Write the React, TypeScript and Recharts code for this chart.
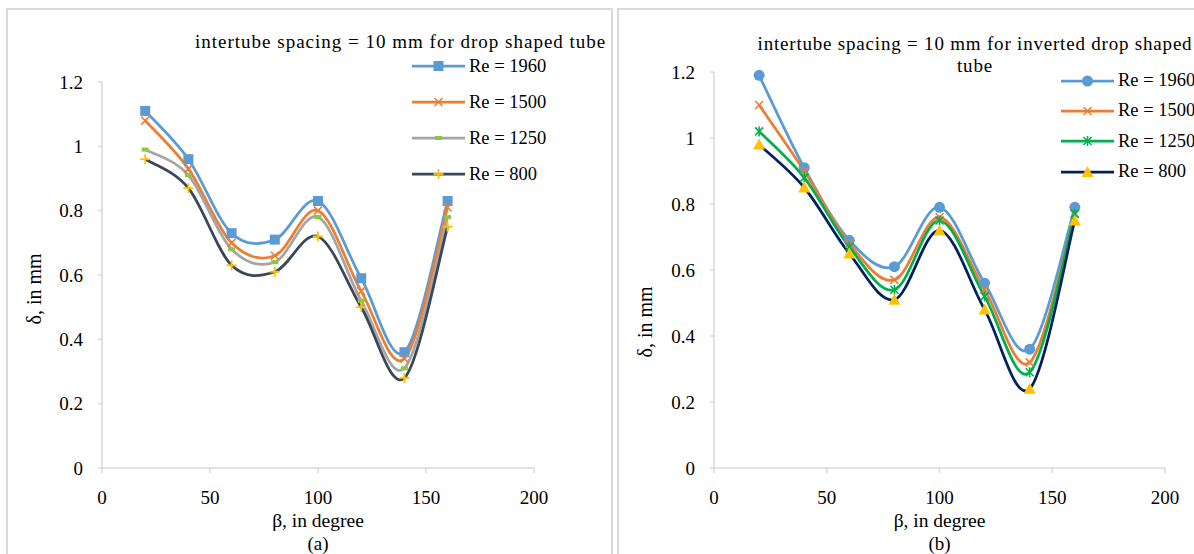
import React from 'react';
import { LineChart, Line, XAxis, YAxis, Legend, Label } from 'recharts';

// β in degree
const angles = [20, 40, 60, 80, 100, 120, 140, 160];

// (a) drop shaped tube, δ in mm
const dropRe1960 = [1.11, 0.96, 0.73, 0.71, 0.83, 0.59, 0.36, 0.83];
const dropRe1500 = [1.08, 0.93, 0.70, 0.66, 0.80, 0.55, 0.34, 0.81];
const dropRe1250 = [0.99, 0.91, 0.68, 0.64, 0.78, 0.52, 0.31, 0.78];
const dropRe800 = [0.96, 0.87, 0.63, 0.61, 0.72, 0.50, 0.28, 0.75];

// (b) inverted drop shaped tube, δ in mm
const invRe1960 = [1.19, 0.91, 0.69, 0.61, 0.79, 0.56, 0.36, 0.79];
const invRe1500 = [1.10, 0.90, 0.68, 0.57, 0.76, 0.54, 0.32, 0.77];
const invRe1250 = [1.02, 0.88, 0.67, 0.54, 0.75, 0.52, 0.29, 0.77];
const invRe800 = [0.98, 0.85, 0.65, 0.51, 0.72, 0.48, 0.24, 0.75];

const xTicks = [0, 50, 100, 150, 200];
const yTicks = [0, 0.2, 0.4, 0.6, 0.8, 1, 1.2];

const serif = '"Liberation Serif", "Times New Roman", serif';
const axisGrey = '#d9d9d9';

const dropData = angles.map((b, i) => ({
  beta: b, re1960: dropRe1960[i], re1500: dropRe1500[i], re1250: dropRe1250[i], re800: dropRe800[i],
}));
const invData = angles.map((b, i) => ({
  beta: b, re1960: invRe1960[i], re1500: invRe1500[i], re1250: invRe1250[i], re800: invRe800[i],
}));

// Excel-like smoothed line (Catmull-Rom through the points)
const excelSmooth = (ctx: any) => {
  let pts: number[][] = [];
  return {
    areaStart() {},
    areaEnd() {},
    lineStart() { pts = []; },
    point(x: number, y: number) { pts.push([+x, +y]); },
    lineEnd() {
      if (!pts.length) return;
      ctx.moveTo(pts[0][0], pts[0][1]);
      for (let i = 0; i < pts.length - 1; i++) {
        const p0 = pts[i - 1] || pts[i];
        const p1 = pts[i];
        const p2 = pts[i + 1];
        const p3 = pts[i + 2] || p2;
        ctx.bezierCurveTo(
          p1[0] + (p2[0] - p0[0]) / 6, p1[1] + (p2[1] - p0[1]) / 6,
          p2[0] - (p3[0] - p1[0]) / 6, p2[1] - (p3[1] - p1[1]) / 6,
          p2[0], p2[1],
        );
      }
    },
  };
};

type Marker = (cx: number, cy: number, key?: string) => React.ReactElement;

const square = (fill: string): Marker => (cx, cy, key) => (
  <rect key={key} x={cx - 5} y={cy - 5} width={10} height={10} fill={fill} />
);
const cross = (stroke: string): Marker => (cx, cy, key) => (
  <g key={key} stroke={stroke} strokeWidth={1.6}>
    <line x1={cx - 4} y1={cy - 4} x2={cx + 4} y2={cy + 4} />
    <line x1={cx - 4} y1={cy + 4} x2={cx + 4} y2={cy - 4} />
  </g>
);
const dash = (fill: string): Marker => (cx, cy, key) => (
  <rect key={key} x={cx - 3.5} y={cy - 2} width={7} height={4} fill={fill} />
);
const plus = (stroke: string): Marker => (cx, cy, key) => (
  <g key={key} stroke={stroke} strokeWidth={1.8}>
    <line x1={cx - 5} y1={cy} x2={cx + 5} y2={cy} />
    <line x1={cx} y1={cy - 5} x2={cx} y2={cy + 5} />
  </g>
);
const circle = (fill: string): Marker => (cx, cy, key) => (
  <circle key={key} cx={cx} cy={cy} r={5.5} fill={fill} />
);
const star = (stroke: string): Marker => (cx, cy, key) => (
  <g key={key} stroke={stroke} strokeWidth={1.6}>
    <line x1={cx - 4} y1={cy - 4} x2={cx + 4} y2={cy + 4} />
    <line x1={cx - 4} y1={cy + 4} x2={cx + 4} y2={cy - 4} />
    <line x1={cx} y1={cy - 5} x2={cx} y2={cy + 5} />
  </g>
);
const triangle = (fill: string): Marker => (cx, cy, key) => (
  <polygon key={key} points={`${cx},${cy - 6} ${cx + 6},${cy + 5} ${cx - 6},${cy + 5}`} fill={fill} />
);

type Series = { key: string; name: string; color: string; marker: Marker };

const dropSeries: Series[] = [
  { key: 're1960', name: 'Re = 1960', color: '#5b9bd5', marker: square('#5b9bd5') },
  { key: 're1500', name: 'Re = 1500', color: '#ed7d31', marker: cross('#ed7d31') },
  { key: 're1250', name: 'Re = 1250', color: '#a5a5a5', marker: dash('#8dc63f') },
  { key: 're800', name: 'Re = 800', color: '#3a4659', marker: plus('#ffc000') },
];
const invSeries: Series[] = [
  { key: 're1960', name: 'Re = 1960', color: '#5b9bd5', marker: circle('#5b9bd5') },
  { key: 're1500', name: 'Re = 1500', color: '#ed7d31', marker: cross('#ed7d31') },
  { key: 're1250', name: 'Re = 1250', color: '#00b050', marker: star('#00b050') },
  { key: 're800', name: 'Re = 800', color: '#002060', marker: triangle('#ffc000') },
];

const legendContent = (series: Series[], rowH: number) => () => (
  <div style={{ fontFamily: serif, fontSize: 18.5, color: '#000', whiteSpace: 'nowrap' }}>
    {series.map((s) => (
      <div key={s.key} style={{ display: 'flex', alignItems: 'center', height: rowH }}>
        <svg width={53} height={20} style={{ display: 'block' }}>
          <line x1={0} x2={53} y1={10} y2={10} stroke={s.color} strokeWidth={2.75} />
          {s.marker(26.5, 10)}
        </svg>
        <span style={{ marginLeft: 4 }}>{s.name}</span>
      </div>
    ))}
  </div>
);

const tickStyle = { fill: '#000', fontSize: 19, fontFamily: serif };

type PanelProps = {
  data: any[];
  series: Series[];
  width: number;
  margin: { top: number; right: number; bottom: number; left: number };
  caption: string;
  yTitlePos: [number, number];
  legendPos: { left: number; top: number; rowH: number };
};

const Panel = ({ data, series, width, margin, caption, yTitlePos, legendPos }: PanelProps) => (
  <LineChart width={width} height={554} data={data} margin={margin}>
    <XAxis
      dataKey="beta"
      type="number"
      domain={[0, 200]}
      ticks={xTicks}
      height={86}
      stroke={axisGrey}
      axisLine={{ stroke: axisGrey, strokeWidth: 1.5 }}
      tickLine={{ stroke: axisGrey, strokeWidth: 1.5 }}
      tickSize={5}
      tickMargin={18}
      tick={tickStyle}
    >
      <Label
        content={({ viewBox }: any) => {
          const cx = viewBox.x + viewBox.width / 2;
          return (
            <g fontFamily={serif} fontSize={19.5} fill="#000" textAnchor="middle">
              <text x={cx} y={viewBox.y + 52} dominantBaseline="central">β, in degree</text>
              <text x={cx} y={viewBox.y + 75} fontSize={19} dominantBaseline="central">{caption}</text>
            </g>
          );
        }}
      />
    </XAxis>
    <YAxis
      type="number"
      domain={[0, 1.2]}
      ticks={yTicks}
      width={60}
      axisLine={{ stroke: axisGrey, strokeWidth: 1.5 }}
      tickLine={{ stroke: axisGrey, strokeWidth: 1.5 }}
      tickSize={4}
      tickMargin={15}
      tick={tickStyle}
    >
      <Label
        content={() => (
          <text
            x={yTitlePos[0]}
            y={yTitlePos[1]}
            transform={`rotate(-90 ${yTitlePos[0]} ${yTitlePos[1]})`}
            textAnchor="middle"
            dominantBaseline="central"
            fontFamily={serif}
            fontSize={20}
            fill="#000"
          >
            δ, in mm
          </text>
        )}
      />
    </YAxis>
    <Legend
      layout="vertical"
      align="center"
      verticalAlign="middle"
      content={legendContent(series, legendPos.rowH)}
      wrapperStyle={{ left: legendPos.left, top: legendPos.top, width: 200 }}
    />
    {series.map((s) => (
      <Line
        key={s.key}
        dataKey={s.key}
        name={s.name}
        type={excelSmooth as any}
        stroke={s.color}
        strokeWidth={2.75}
        dot={(p: any) => s.marker(p.cx, p.cy, `${s.key}-${p.index}`)}
        activeDot={false}
        isAnimationActive={false}
      />
    ))}
  </LineChart>
);

export default function App() {
  return (
    <div style={{ position: 'relative', width: 1194, height: 554, overflow: 'hidden', background: '#fff' }}>
      <style>{'body{margin:0}'}</style>
      <div style={{ position: 'absolute', left: 6, top: 8, width: 603, height: 600, border: `2px solid ${axisGrey}` }} />
      <div style={{ position: 'absolute', left: 617, top: 8, width: 600, height: 600, border: `2px solid ${axisGrey}` }} />

      <div style={{ position: 'absolute', left: 0, top: 0 }}>
        <Panel
          data={dropData}
          series={dropSeries}
          width={612}
          margin={{ top: 82, right: 78, bottom: 0, left: 42 }}
          caption="(a)"
          yTitlePos={[34, 289]}
          legendPos={{ left: 412, top: 48, rowH: 36 }}
        />
      </div>
      <div
        style={{
          position: 'absolute', left: 195, top: 31, lineHeight: '22px', fontFamily: serif,
          fontSize: 19, letterSpacing: 1, whiteSpace: 'nowrap', color: '#000',
        }}
      >
        intertube spacing = 10 mm for drop shaped tube
      </div>

      <div style={{ position: 'absolute', left: 614, top: 0 }}>
        <Panel
          data={invData}
          series={invSeries}
          width={580}
          margin={{ top: 72, right: 29, bottom: 0, left: 40 }}
          caption="(b)"
          yTitlePos={[31, 322]}
          legendPos={{ left: 447, top: 65.5, rowH: 30.3 }}
        />
      </div>
      <div
        style={{
          position: 'absolute', left: 735, top: 33, width: 480, textAlign: 'center', lineHeight: '22px',
          fontFamily: serif, fontSize: 19, letterSpacing: 0.8, color: '#000', whiteSpace: 'nowrap',
        }}
      >
        intertube spacing = 10 mm for inverted drop shaped
        <br />
        tube
      </div>
    </div>
  );
}
